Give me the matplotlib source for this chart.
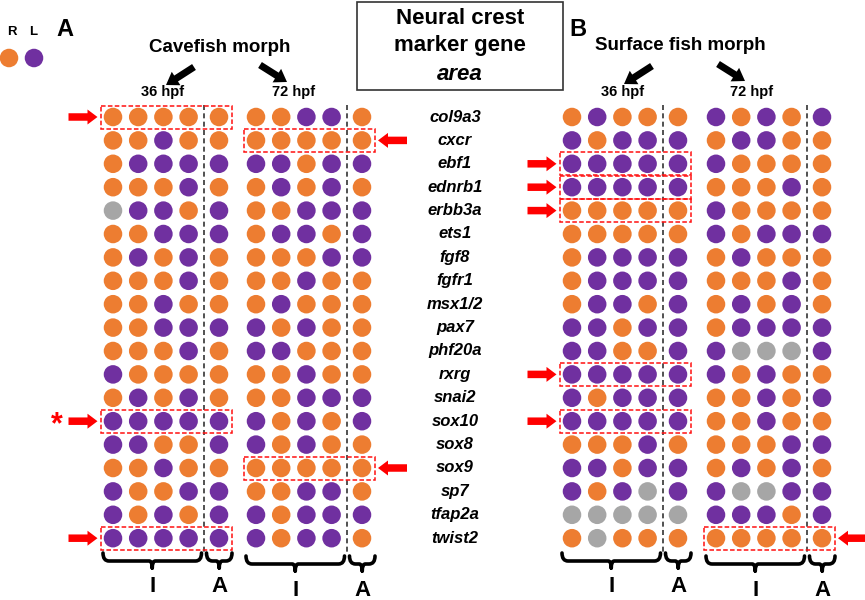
import matplotlib
matplotlib.use("Agg")
import matplotlib.pyplot as plt
from matplotlib.patches import Rectangle, FancyArrow
from matplotlib.path import Path
from matplotlib.patches import PathPatch

plt.rcParams['font.family'] = ['Liberation Sans', 'DejaVu Sans']

genes = ["col9a3", "cxcr", "ebf1", "ednrb1", "erbb3a", "ets1", "fgf8", "fgfr1",
         "msx1/2", "pax7", "phf20a", "rxrg", "snai2", "sox10", "sox8", "sox9",
         "sp7", "tfap2a", "twist2"]

# R = right (orange), L = left (purple), N = not detected (grey); 4 I dots + 1 A dot
cave_36 = ["RRRRR", "RRLRR", "RLLLL", "RRRLR", "NLLRL", "RRLLL", "RLRLR", "RRRLR",
           "RRLRR", "RRLLL", "RRRLR", "LRRRR", "RLRLR", "LLLLL", "LLRRL", "RRLRR",
           "LRRLL", "LRLRL", "LLLLL"]
cave_72 = ["RRLLR", "RRRRR", "LLRLL", "RLRLR", "RRLLL", "RLLRL", "RRRLL", "RRLRR",
           "RLRRR", "LRLRR", "LLRRR", "RRLRR", "RRLLL", "LRLRL", "LRLRR", "RRRRR",
           "RRLLR", "LRLLL", "LRLLR"]
surf_36 = ["RLRRR", "LRLLL", "LLLLL", "LLLLL", "RRRRR", "RRRRR", "RLLLL", "RLLLL",
           "RLLRL", "LLRLL", "LLRRL", "LLLLL", "LRLLL", "LLLLL", "RRRLR", "LLRLL",
           "LRLNL", "NNNNN", "RNRRR"]
surf_72 = ["LRLRL", "RLLRR", "LRRRR", "RRRLR", "LRRRR", "LRLLL", "RLRRR", "RRRLR",
           "RLRLR", "RLLLL", "LNNNL", "LRLRR", "RRLRL", "RRLRR", "RRRLL", "RLRLR",
           "LNNLL", "LLLRL", "RRRRR"]

# highlighted rows (gene names) per group
hl_cave_36 = ["col9a3", "sox10", "twist2"]
hl_cave_72 = ["cxcr", "sox9"]
hl_surf_36 = ["ebf1", "ednrb1", "erbb3a", "rxrg", "sox10"]
hl_surf_72 = ["twist2"]

colors = {"R": "#ED7D31", "L": "#7030A0", "N": "#A6A6A6"}

W, H = 865, 600
fig = plt.figure(figsize=(W / 100, H / 100), dpi=100)
ax = fig.add_axes([0, 0, 1, 1])
ax.set_xlim(0, W)
ax.set_ylim(H, 0)
ax.axis("off")

row0, drow = 117, 23.4
dx, a_off, dash_off = 25.2, 106, 90.5
dot_s = 178


def row_y(i):
    return row0 + i * drow


def block_arrow(x0, y0, x1, y1, color, width=7.5, hw=15, hl=10):
    ax.add_patch(FancyArrow(x0, y0, x1 - x0, y1 - y0, width=width, head_width=hw,
                            head_length=hl, length_includes_head=True,
                            color=color, lw=0))


def bracket(x0, x1, y, label, ly):
    xm = (x0 + x1) / 2
    r = 6
    verts = [(x0, y - 8), (x0, y), (x0 + r, y), (xm - 3, y), (xm, y), (xm, y + 7),
             (xm, y + 7), (xm, y), (xm + 3, y), (x1 - r, y), (x1, y), (x1, y - 8)]
    codes = [Path.MOVETO, Path.CURVE3, Path.CURVE3, Path.LINETO, Path.CURVE3, Path.CURVE3,
             Path.MOVETO, Path.CURVE3, Path.CURVE3, Path.LINETO, Path.CURVE3, Path.CURVE3]
    ax.add_patch(PathPatch(Path(verts, codes), fill=False, lw=2.6, color="black",
                           capstyle="round", joinstyle="round"))
    ax.text(xm, ly, label, ha="center", va="center", fontsize=16, fontweight="bold")


def draw_group(base, data, highlights, arrow_side, ybr, ylab):
    xs = [base + i * dx for i in range(4)] + [base + a_off]
    for i, pattern in enumerate(data):
        y = row_y(i)
        ax.scatter(xs, [y] * 5, s=dot_s, c=[colors[c] for c in pattern],
                   linewidths=0, zorder=3)
    xd = base + dash_off
    ax.plot([xd, xd], [105, 552], ls=(0, (3, 2)), color="#333333", lw=1.2, zorder=2)
    left, right = xs[0] - 12.5, xs[4] + 13
    for g in highlights:
        y = row_y(genes.index(g))
        ax.add_patch(Rectangle((left, y - 11.5), right - left, 23, fill=False,
                               ec="#FF1010", lw=1.1, ls=(0, (3, 1.5)), zorder=4))
        if arrow_side == "left":
            block_arrow(left - 32, y, left - 3, y, "#FF0000")
        else:
            block_arrow(right + 32, y, right + 3, y, "#FF0000")
    bracket(xs[0] - 10, xd - 2, ybr, "I", ylab)
    bracket(xd + 3, xs[4] + 13, ybr, "A", ylab)
    return xs


draw_group(113, cave_36, hl_cave_36, "left", 561, 586)
draw_group(256, cave_72, hl_cave_72, "right", 564, 591)
draw_group(572, surf_36, hl_surf_36, "left", 561, 586)
draw_group(716, surf_72, hl_surf_72, "right", 564, 590)

# asterisk for sox10 cavefish
ax.text(57, row_y(genes.index("sox10")) + 4, "*", ha="center", va="center",
        fontsize=22, fontweight="bold", color="#FF0000")

# gene labels
for i, g in enumerate(genes):
    ax.text(455, row_y(i), g, ha="center", va="center", fontsize=12,
            fontweight="bold", fontstyle="italic")

# legend
ax.text(12, 32, "R", ha="center", va="center", fontsize=9.5, fontweight="bold")
ax.text(33, 32, "L", ha="center", va="center", fontsize=9.5, fontweight="bold")
ax.scatter([9, 34], [58, 58], s=dot_s, c=[colors["R"], colors["L"]], linewidths=0)

# panel labels and titles
ax.text(65, 30, "A", ha="center", va="center", fontsize=17, fontweight="bold")
ax.text(578, 29, "B", ha="center", va="center", fontsize=17, fontweight="bold")
ax.text(220, 48, "Cavefish morph", ha="center", va="center", fontsize=13.5, fontweight="bold")
ax.text(680, 46, "Surface fish morph", ha="center", va="center", fontsize=13.5, fontweight="bold")
for x, lab in [(163, "36 hpf"), (294, "72 hpf"), (623, "36 hpf"), (752, "72 hpf")]:
    ax.text(x, 92, lab, ha="center", va="center", fontsize=10.5, fontweight="bold")

block_arrow(194, 67, 166, 85, "black", width=7, hw=16, hl=12)
block_arrow(260, 65, 287, 82, "black", width=7, hw=16, hl=12)
block_arrow(652, 66, 624, 84, "black", width=7, hw=16, hl=12)
block_arrow(718, 64, 745, 81, "black", width=7, hw=16, hl=12)

# central title box
ax.add_patch(Rectangle((357, 2), 206, 88, fill=False, ec="#333333", lw=1.2))
ax.text(460, 18, "Neural crest", ha="center", va="center", fontsize=16, fontweight="bold")
ax.text(460, 46, "marker gene", ha="center", va="center", fontsize=16, fontweight="bold")
ax.text(460, 74, "area", ha="center", va="center", fontsize=16, fontweight="bold",
        fontstyle="italic")

fig.savefig("out.png", dpi=100)
